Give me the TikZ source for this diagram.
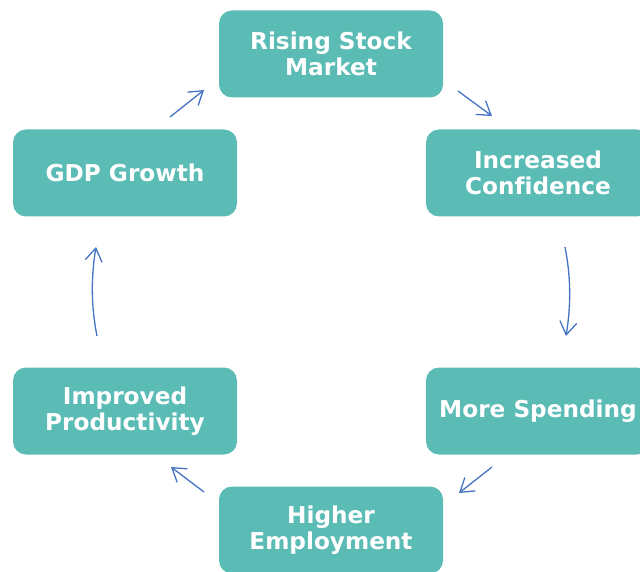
\documentclass[tikz,border=0pt]{standalone}
\usepackage{fontspec}
\setmainfont[Ligatures=NoCommon]{DejaVu Sans}
\usetikzlibrary{arrows.meta}
\definecolor{teal1}{HTML}{5BBCB6}
\definecolor{arrblue}{HTML}{4472C4}
\tikzset{
  box/.style={fill=teal1, rounded corners=13pt, minimum width=224pt, minimum height=87pt,
    inner sep=0pt, align=center, text=white, font=\fontsize{23.2}{26}\selectfont\bfseries},
  conn/.style={draw=arrblue, line width=1.3pt, -{Straight Barb[length=13pt,width=17pt,line width=1.3pt]}}
}
\begin{document}
\begin{tikzpicture}[x=1pt,y=-1pt]
\useasboundingbox (0,0) rectangle (640,572);
\begin{scope}
\clip (0,0) rectangle (640,572);
\node[box] (rise) at (331,54) {Rising Stock\\Market};
\node[box] (conf) at (538,173) {Increased\\Confidence};
\node[box] (spend) at (538,411) {More Spending};
\node[box] (emp) at (331,530) {Higher\\Employment};
\node[box] (prod) at (125,411) {Improved\\Productivity};
\node[box] (gdp) at (125,173) {GDP Growth};
\end{scope}
\coordinate (a1s) at (170,117); \coordinate (a1e) at (204,90);
\coordinate (a2s) at (458,91);  \coordinate (a2e) at (492,116);
\coordinate (a3s) at (565,247); \coordinate (a3e) at (566,336);
\coordinate (a4s) at (492,467); \coordinate (a4e) at (459,493);
\coordinate (a5s) at (204,492); \coordinate (a5e) at (171,467);
\coordinate (a6s) at (97,336);  \coordinate (a6e) at (96,247);
\draw[conn] (a1s) -- (a1e);
\draw[conn] (a2s) -- (a2e);
\draw[conn] (a3s) .. controls (571,277) and (571,306) .. (a3e);
\draw[conn] (a4s) -- (a4e);
\draw[conn] (a5s) -- (a5e);
\draw[conn] (a6s) .. controls (91,306) and (91,277) .. (a6e);
\end{tikzpicture}
\end{document}
